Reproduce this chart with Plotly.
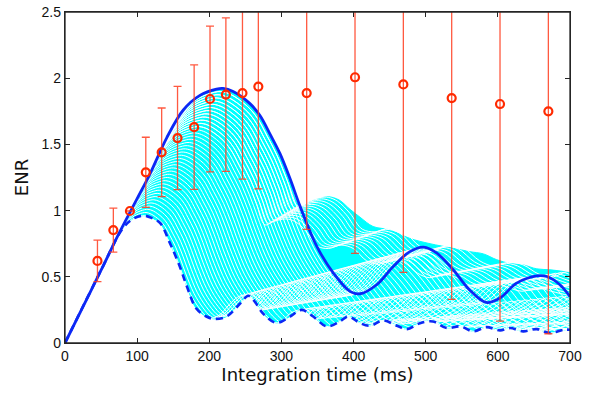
import plotly.graph_objects as go

# ---------------- data ----------------
# solid blue curve (ENR vs integration time)
solid_t = [0, 25, 50, 75, 100, 118, 141, 164, 187, 210, 219, 233, 256, 270, 284, 298, 312,
           326, 349, 372, 395, 409, 432, 455, 478, 497, 515, 538, 561, 584, 603, 626, 654,
           668, 686, 700]
solid_y = [0, 0.275, 0.55, 0.83, 1.09, 1.28, 1.55, 1.76, 1.87, 1.918, 1.923, 1.90, 1.81, 1.72,
           1.58, 1.43, 1.24, 1.03, 0.73, 0.528, 0.39, 0.372, 0.44, 0.578, 0.69, 0.724, 0.68,
           0.553, 0.40, 0.306, 0.34, 0.452, 0.507, 0.502, 0.44, 0.35]

# dashed blue curve (lower bound)
dash_t = [0, 50, 80, 95, 109, 120, 132, 145, 159, 169, 182, 196, 206, 224, 243, 254, 262, 275,
          293, 312, 328, 344, 363, 381, 393, 409, 423, 441, 460, 474, 492, 510, 529, 548, 566,
          584, 603, 617, 635, 654, 672, 691, 700]
dash_y = [0, 0.55, 0.865, 0.94, 0.962, 0.945, 0.905, 0.76, 0.58, 0.427, 0.26, 0.2, 0.183, 0.2,
          0.30, 0.357, 0.32, 0.22, 0.152, 0.2, 0.25, 0.2, 0.125, 0.163, 0.2, 0.15, 0.13, 0.17,
          0.13, 0.105, 0.15, 0.163, 0.113, 0.125, 0.088, 0.12, 0.095, 0.113, 0.088, 0.105,
          0.075, 0.1, 0.1]

# top edge of the cyan band beyond the main lobe
band_top_t = [326, 340, 355, 365, 380, 395, 409, 427, 450, 478, 506, 538, 561, 580, 598, 617,
              635, 654, 672, 691, 700]
band_top_y = [1.03, 1.07, 1.095, 1.105, 1.08, 1.01, 0.95, 0.88, 0.855, 0.79, 0.75, 0.716, 0.69,
              0.673, 0.63, 0.60, 0.59, 0.56, 0.553, 0.54, 0.53]

# upper cyan member beyond the main lobe
ctop_t = [326, 340, 355, 365, 378, 395, 412, 430, 450, 470, 492, 512, 532, 552, 575, 595, 615,
          635, 657, 677, 697, 720, 745, 770, 800, 830, 860]
ctop_y = [1.05, 1.08, 1.10, 1.10, 1.07, 0.98, 0.86, 0.84, 0.87, 0.84, 0.73, 0.70, 0.74, 0.72,
          0.62, 0.58, 0.61, 0.59, 0.52, 0.50, 0.54, 0.50, 0.46, 0.49, 0.45, 0.42, 0.45]

# frequency-scale factors of the cyan family
scales = [0.5000, 0.5125, 0.5250, 0.5375, 0.5500, 0.5625, 0.5750, 0.5875, 0.6000, 0.6125,
          0.6250, 0.6375, 0.6500, 0.6625, 0.6750, 0.6875, 0.7000, 0.7125, 0.7250, 0.7375,
          0.7500, 0.7625, 0.7750, 0.7875, 0.8000, 0.8125, 0.8250, 0.8375, 0.8500, 0.8625,
          0.8750, 0.8875, 0.9000, 0.9125, 0.9250, 0.9375, 0.9500, 0.9625, 0.9750, 0.9875,
          1.0000]

# measured ENR points with error bars
meas_t = [45, 67, 90, 112, 134, 156, 179, 201, 223, 246, 268, 335, 402, 469, 536, 603, 670]
meas_y = [0.62, 0.853, 0.997, 1.289, 1.44, 1.548, 1.63, 1.843, 1.876, 1.888, 1.937, 1.888,
          2.007, 1.953, 1.85, 1.805, 1.75]
meas_err = [0.157, 0.166, 0.0, 0.265, 0.335, 0.39, 0.47, 0.55, 0.58, 0.65, 0.773, 1.03, 1.33,
            1.42, 1.52, 1.64, 1.68]

x_ticks = [0, 100, 200, 300, 400, 500, 600, 700]
y_ticks = [0, 0.5, 1, 1.5, 2, 2.5]
y_ticktext = ['0', '0.5', '1', '1.5', '2', '2.5']

# ---------------- build the family ----------------
base1_t = solid_t + [2 * t for t in dash_t if t > 350]
base1_y = solid_y + [2 * y for t, y in zip(dash_t, dash_y) if t > 350]
base2_t = [t for t in solid_t if t <= 312] + ctop_t
base2_y = [y for t, y in zip(solid_t, solid_y) if t <= 312] + ctop_y


def family(bt, by, ss):
    xs, ys = [], []
    for s in ss:
        xs += [s * t for t in bt] + [None]
        ys += [s * y for y in by] + [None]
    return xs, ys


CYAN = '#00ffff'
BLUE = 'rgb(12,40,245)'
RED = '#ff2a00'
FRAME = '#262626'

fig = go.Figure()

# cyan band: from the dashed lower curve up to the top edge of the family
top_t = [t for t in solid_t if t <= 312] + band_top_t
top_y = [y for t, y in zip(solid_t, solid_y) if t <= 312] + band_top_y
fig.add_trace(go.Scatter(x=top_t + dash_t[::-1], y=top_y + dash_y[::-1], mode='lines',
                         fill='toself', fillcolor=CYAN,
                         line=dict(color=CYAN, width=1, shape='spline'),
                         hoverinfo='skip', showlegend=False))

# gaps between the individual family members
fx, fy = family(base1_t, base1_y, scales)
fig.add_trace(go.Scatter(x=fx, y=fy, mode='lines', line=dict(color='white', width=1.0, shape='spline'),
                         hoverinfo='skip', showlegend=False))
fx, fy = family(base2_t, base2_y, [s for s in scales if s >= 0.85])
fig.add_trace(go.Scatter(x=fx, y=fy, mode='lines', line=dict(color='white', width=1.0, shape='spline'),
                         hoverinfo='skip', showlegend=False))

fig.add_trace(go.Scatter(x=solid_t, y=solid_y, mode='lines',
                         line=dict(color=BLUE, width=2.8, shape='spline'), showlegend=False))
fig.add_trace(go.Scatter(x=dash_t, y=dash_y, mode='lines',
                         line=dict(color=BLUE, width=2.6, shape='spline', dash='7px,5px'),
                         showlegend=False))
fig.add_trace(go.Scatter(x=meas_t, y=meas_y, mode='markers',
                         marker=dict(symbol='circle-open', size=8, color=RED, line=dict(width=2.2)),
                         error_y=dict(type='data', array=meas_err, color='rgba(255,60,30,0.85)',
                                      thickness=1.3, width=4),
                         showlegend=False))

axis_common = dict(showgrid=False, zeroline=False, showline=True, linecolor=FRAME,
                   linewidth=1.3, mirror='allticks', ticks='inside', ticklen=5,
                   tickcolor=FRAME, automargin=False,
                   tickfont=dict(family='Liberation Sans, Arial', size=14, color='#111'))
fig.update_xaxes(range=[0, 700], tickvals=x_ticks, **axis_common,
                 title=dict(text='Integration time (ms)', standoff=4,
                            font=dict(family='DejaVu Sans', size=18, color='#111')))
fig.update_yaxes(range=[0, 2.5], tickvals=y_ticks, ticktext=y_ticktext,
                 **axis_common,
                 title=dict(text='ENR', standoff=8,
                            font=dict(family='DejaVu Sans', size=18, color='#111')))
# plot frame
fig.add_shape(type='rect', xref='paper', yref='paper', x0=0, x1=1, y0=0, y1=1,
              line=dict(color=FRAME, width=1.3), layer='above')
fig.update_layout(width=594, height=394, margin=dict(l=65, r=24, t=12, b=51),
                  paper_bgcolor='white', plot_bgcolor='white')
# remove the default page margin so the figure sits at the window's top-left corner
fig.write_html('out.html', config={'displayModeBar': False},
               post_script="document.body.style.margin='0';")
